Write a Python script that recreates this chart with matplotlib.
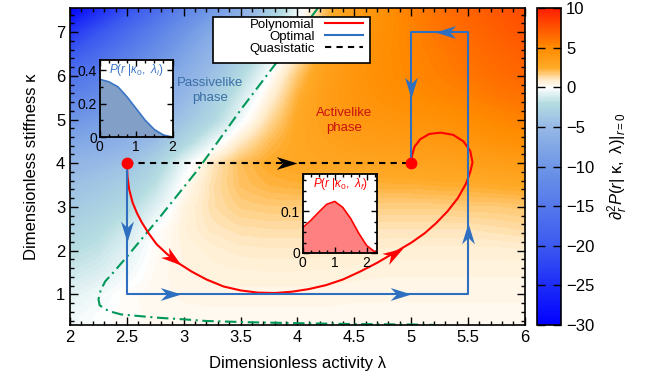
import numpy as np
import matplotlib
matplotlib.use('Agg')
import matplotlib.pyplot as plt
from matplotlib.colors import LinearSegmentedColormap, Normalize
from matplotlib.ticker import MultipleLocator
from matplotlib.markers import MarkerStyle
from matplotlib.path import Path
from matplotlib.transforms import Affine2D
from matplotlib.patches import Rectangle

plt.rcParams['font.family'] = ['Liberation Sans', 'DejaVu Sans']
plt.rcParams['mathtext.fontset'] = 'custom'
plt.rcParams['mathtext.rm'] = 'Liberation Sans'
plt.rcParams['mathtext.it'] = 'Liberation Sans:italic'
plt.rcParams['mathtext.sf'] = 'Liberation Sans'

# heatmap: d2P/dr2 at r=0, rows from kappa=7.5 (top) down to 0.5
lam_grid = [2.0, 2.25, 2.5, 2.75, 3.0, 3.25, 3.5, 3.75, 4.0, 4.25, 4.5, 4.75, 5.0, 5.25, 5.5, 5.75, 6.0]
kap_grid = [7.5, 7.0, 6.5, 6.0, 5.5, 5.0, 4.5, 4.0, 3.5, 3.0, 2.5, 2.0, 1.5, 1.0, 0.5]
d2P = [
    [-29, -25, -21, -17, -13, -9.5, -6.5, -3.5, -0.5, 2.0, 3.5, 4.5, 5.5, 6.2, 6.8, 7.3, 7.8],
    [-24, -20.5, -17, -13.5, -10, -7, -4.5, -2, 0.3, 2.5, 3.8, 4.6, 5.3, 6.0, 6.5, 7.0, 7.4],
    [-20, -17, -14, -11, -8, -5.5, -3.2, -1.0, 1.0, 3.0, 4.0, 4.7, 5.2, 5.7, 6.2, 6.6, 7.0],
    [-16, -14, -11.5, -9, -6.5, -4.3, -2.2, -0.1, 1.8, 3.3, 4.2, 4.7, 5.1, 5.5, 5.9, 6.3, 6.6],
    [-13, -11.5, -9.5, -7.3, -5.2, -3.2, -1.2, 0.6, 2.3, 3.5, 4.1, 4.5, 4.8, 5.1, 5.4, 5.8, 6.1],
    [-10, -9, -7.5, -5.8, -4, -2.4, -0.4, 1.3, 2.6, 3.4, 3.9, 4.1, 4.3, 4.5, 4.8, 5.1, 5.4],
    [-7.5, -7, -6, -4.6, -2.6, -0.7, 0.9, 2.0, 2.7, 3.1, 3.4, 3.6, 3.7, 3.9, 4.1, 4.4, 4.6],
    [-5.5, -5.0, -4.2, -2.8, -0.6, 1.0, 2.0, 2.5, 2.7, 2.8, 2.9, 2.9, 3.0, 3.1, 3.2, 3.4, 3.6],
    [-4.3, -3.8, -3.1, -1.8, 0.1, 1.2, 1.9, 2.2, 2.3, 2.3, 2.3, 2.3, 2.3, 2.4, 2.4, 2.5, 2.6],
    [-3.5, -3.0, -2.2, -0.9, 0.5, 1.2, 1.6, 1.7, 1.7, 1.7, 1.7, 1.6, 1.6, 1.6, 1.7, 1.7, 1.8],
    [-2.7, -2.2, -1.3, -0.1, 0.6, 1.0, 1.2, 1.25, 1.25, 1.2, 1.15, 1.1, 1.1, 1.1, 1.1, 1.2, 1.3],
    [-2.0, -1.6, -0.8, 0.1, 0.5, 0.7, 0.85, 0.9, 0.9, 0.85, 0.8, 0.75, 0.7, 0.7, 0.7, 0.7, 0.75],
    [-1.4, -1.0, -0.4, 0.2, 0.45, 0.55, 0.6, 0.6, 0.6, 0.6, 0.55, 0.5, 0.5, 0.5, 0.5, 0.5, 0.5],
    [-0.8, -0.4, 0.1, 0.25, 0.35, 0.4, 0.4, 0.4, 0.4, 0.4, 0.35, 0.35, 0.35, 0.35, 0.35, 0.35, 0.35],
    [-0.4, -0.1, 0.1, 0.2, 0.25, 0.25, 0.25, 0.25, 0.25, 0.25, 0.25, 0.25, 0.25, 0.25, 0.25, 0.25, 0.25],
]

# protocols
poly_lam = [2.50, 2.505, 2.52, 2.55, 2.59, 2.63, 2.69, 2.76, 2.85, 2.95, 3.07, 3.20, 3.35, 3.50, 3.65,
            3.80, 3.95, 4.10, 4.25, 4.40, 4.55, 4.70, 4.85, 5.00, 5.12, 5.22, 5.32, 5.41, 5.48, 5.52,
            5.54, 5.52, 5.46, 5.37, 5.26, 5.16, 5.08, 5.03, 5.01, 5.00]
poly_kap = [4.00, 3.70, 3.40, 3.10, 2.85, 2.65, 2.40, 2.15, 1.93, 1.72, 1.52, 1.34, 1.18, 1.09, 1.04,
            1.03, 1.06, 1.12, 1.21, 1.34, 1.52, 1.72, 1.95, 2.18, 2.40, 2.63, 2.90, 3.20, 3.52, 3.80,
            4.02, 4.28, 4.50, 4.65, 4.70, 4.67, 4.55, 4.38, 4.20, 4.00]
opt_lam = [2.5, 2.5, 5.5, 5.5, 5.0, 5.0]
opt_kap = [4.0, 1.0, 1.0, 7.0, 7.0, 4.0]
qs_lam = [2.5, 5.0]
qs_kap = [4.0, 4.0]
dot_lam = [2.5, 5.0]
dot_kap = [4.0, 4.0]

# phase boundary
bnd_lam = [4.18, 3.85, 3.50, 3.12, 2.80, 2.50, 2.38, 2.31, 2.27, 2.25, 2.26, 2.31, 2.35, 2.45, 2.62,
           2.80, 2.99, 3.20, 3.60, 4.00, 4.50, 5.00, 5.20]
bnd_kap = [7.55, 6.42, 5.22, 3.84, 2.80, 1.86, 1.50, 1.30, 1.10, 0.89, 0.75, 0.66, 0.61, 0.54, 0.50,
           0.46, 0.43, 0.39, 0.36, 0.34, 0.32, 0.31, 0.30]

# arrow heads: (tail lam, tail kap, tip lam, tip kap, colour)
arrows = [
    (2.5, 2.55, 2.5, 2.20, '#2f6fc0'),
    (2.81, 1.0, 2.98, 1.0, '#2f6fc0'),
    (4.81, 1.0, 5.00, 1.0, '#2f6fc0'),
    (5.5, 2.20, 5.5, 2.64, '#2f6fc0'),
    (5.40, 7.0, 5.21, 7.0, '#2f6fc0'),
    (5.0, 6.05, 5.0, 5.50, '#2f6fc0'),
    (3.80, 4.0, 4.00, 4.0, 'black'),
    (2.85, 1.93, 2.98, 1.67, '#ff0000'),
    (4.75, 1.78, 4.93, 2.07, '#ff0000'),
]

# inset distributions
r_i = [0, 0.25, 0.5, 0.75, 1.0, 1.25, 1.5, 1.75, 2.0]
p_i = [0.345, 0.33, 0.30, 0.24, 0.17, 0.10, 0.045, 0.012, 0.0]
r_f = [0, 0.25, 0.5, 0.75, 1.0, 1.25, 1.5, 1.75, 2.0, 2.25, 2.35]
p_f = [0.061, 0.078, 0.098, 0.117, 0.124, 0.110, 0.083, 0.048, 0.018, 0.003, 0.0]

xtick_vals = [2, 2.5, 3, 3.5, 4, 4.5, 5, 5.5, 6]
xtick_labels = ['2', '2.5', '3', '3.5', '4', '4.5', '5', '5.5', '6']

cmap = LinearSegmentedColormap.from_list('bwo', [
    (0.0, '#0000ff'), (0.25, '#3c5af0'), (0.5, '#6e96e6'), (0.625, '#96b9e6'),
    (0.70, '#b4dce1'), (0.75, '#ffffff'), (0.775, '#ffebc8'), (0.8125, '#ffaa28'),
    (0.875, '#ff8c00'), (1.0, '#ff1e00')])

fig = plt.figure(figsize=(6.61, 3.85), dpi=100)
ax = fig.add_axes([0.106, 0.156, 0.688, 0.823])
im = ax.imshow(np.array(d2P), cmap=cmap, norm=Normalize(-30, 10), origin='upper', aspect='auto',
               extent=(1.875, 6.125, 0.25, 7.75), interpolation='bilinear', zorder=0)
ax.set_xlim(2, 6)
ax.set_ylim(0.3, 7.55)

ax.plot(bnd_lam, bnd_kap, color='#00985a', lw=1.5, dashes=(5.5, 2.2, 1, 2.2), zorder=2)
ax.plot(poly_lam, poly_kap, color='#ff0000', lw=1.5, label='Polynomial', zorder=3)
ax.plot(opt_lam, opt_kap, color='#2f6fc0', lw=1.5, label='Optimal', zorder=4)
ax.plot(qs_lam, qs_kap, color='black', lw=1.5, dashes=(3, 2.5), label='Quasistatic', zorder=3)
ax.plot(dot_lam, dot_kap, 'o', color='#ff0000', ms=7.5, zorder=6)

# notched arrow heads, tip at the origin of the marker
head = Path([(0, 0), (-2, 0.62), (-1.4, 0), (-2, -0.62), (0, 0)],
            [Path.MOVETO, Path.LINETO, Path.LINETO, Path.LINETO, Path.CLOSEPOLY])
for x0, y0, x1, y1, c in arrows:
    p0 = ax.transData.transform((x0, y0))
    p1 = ax.transData.transform((x1, y1))
    ang = np.degrees(np.arctan2(p1[1] - p0[1], p1[0] - p0[0]))
    m = MarkerStyle(head, transform=Affine2D().rotate_deg(ang))
    ax.plot([x1], [y1], ls='none', marker=m, ms=30, color=c, mew=0, zorder=5)

ax.text(3.23, 5.66, 'Passivelike\nphase', color='#3a6ea5', fontsize=9.5, ha='center', va='center',
        linespacing=1.35)
ax.text(4.41, 4.98, 'Activelike\nphase', color='#cc1010', fontsize=9.5, ha='center', va='center',
        linespacing=1.35)

ax.set_xticks(xtick_vals)
ax.set_xticklabels(xtick_labels)
ax.set_yticks([1, 2, 3, 4, 5, 6, 7])
ax.xaxis.set_minor_locator(MultipleLocator(0.1))
ax.yaxis.set_minor_locator(MultipleLocator(0.2))
ax.tick_params(which='both', direction='in', top=True, right=True, labelsize=12, width=1)
ax.tick_params(which='major', length=6)
ax.tick_params(which='minor', length=3)
for s in ax.spines.values():
    s.set_linewidth(1.2)
ax.set_xlabel('Dimensionless activity λ', fontsize=12, labelpad=8)
ax.set_ylabel('Dimensionless stiffness κ', fontsize=12, labelpad=12)

ax.add_patch(Rectangle((0.314, 0.826), 0.346, 0.147, transform=ax.transAxes, fc='white',
                       ec='black', lw=1.2, zorder=9))
leg = ax.legend(loc='upper right', bbox_to_anchor=(0.648, 0.972), markerfirst=False, frameon=False,
                fontsize=9.5, handlelength=2.9, borderpad=0.1, labelspacing=0.0, borderaxespad=0,
                handletextpad=0.8)
leg.set_zorder(10)

cax = fig.add_axes([0.812, 0.156, 0.037, 0.823])
cb = fig.colorbar(im, cax=cax)
cb.set_ticks(list(range(-30, 11, 5)))
cax.tick_params(direction='in', length=6, width=1, left=True, right=True, labelsize=12)
cb.outline.set_linewidth(1.2)
cb.set_label(r'$\partial_r^2 P(r|\ \mathrm{\kappa},\ \mathrm{\lambda})|_{r=0}$', fontsize=12, labelpad=8)

# inset: initial distribution
ax1 = fig.add_axes([0.151, 0.644, 0.110, 0.200])
ax1.fill_between(r_i, p_i, color='#829fc8', lw=0)
ax1.plot(r_i, p_i, color='#3a75c4', lw=1.2)
ax1.set_xlim(0, 2)
ax1.set_ylim(0, 0.46)
ax1.set_xticks([0, 1, 2])
ax1.set_yticks([0, 0.2, 0.4])
ax1.set_yticklabels(['0', '0.2', '0.4'])
ax1.xaxis.set_minor_locator(MultipleLocator(0.25))
ax1.yaxis.set_minor_locator(MultipleLocator(0.1))
ax1.text(0.5, 0.97, r'$P(r\ |\kappa_0,\ \lambda_i)$', transform=ax1.transAxes, ha='center', va='top',
         color='#3a75c4', fontsize=8.5)

# inset: final distribution
ax2 = fig.add_axes([0.458, 0.343, 0.113, 0.205])
ax2.fill_between(r_f, p_f, color='#ff8080', lw=0)
ax2.plot(r_f, p_f, color='#ff0000', lw=1.2)
ax2.set_xlim(0, 2.34)
ax2.set_ylim(0, 0.19)
ax2.set_xticks([0, 1, 2])
ax2.set_yticks([0, 0.1])
ax2.set_yticklabels(['0', '0.1'])
ax2.xaxis.set_minor_locator(MultipleLocator(0.25))
ax2.yaxis.set_minor_locator(MultipleLocator(0.025))
ax2.text(0.5, 0.97, r'$P(r\ |\kappa_0,\ \lambda_f)$', transform=ax2.transAxes, ha='center', va='top',
         color='#ff0000', fontsize=8.5)

for a in (ax1, ax2):
    a.set_facecolor('white')
    a.tick_params(which='both', direction='in', top=True, right=True, labelsize=10, width=1, pad=2)
    a.tick_params(which='major', length=4)
    a.tick_params(which='minor', length=2)
    for s in a.spines.values():
        s.set_linewidth(1.3)

fig.savefig('out.png', dpi=100)
